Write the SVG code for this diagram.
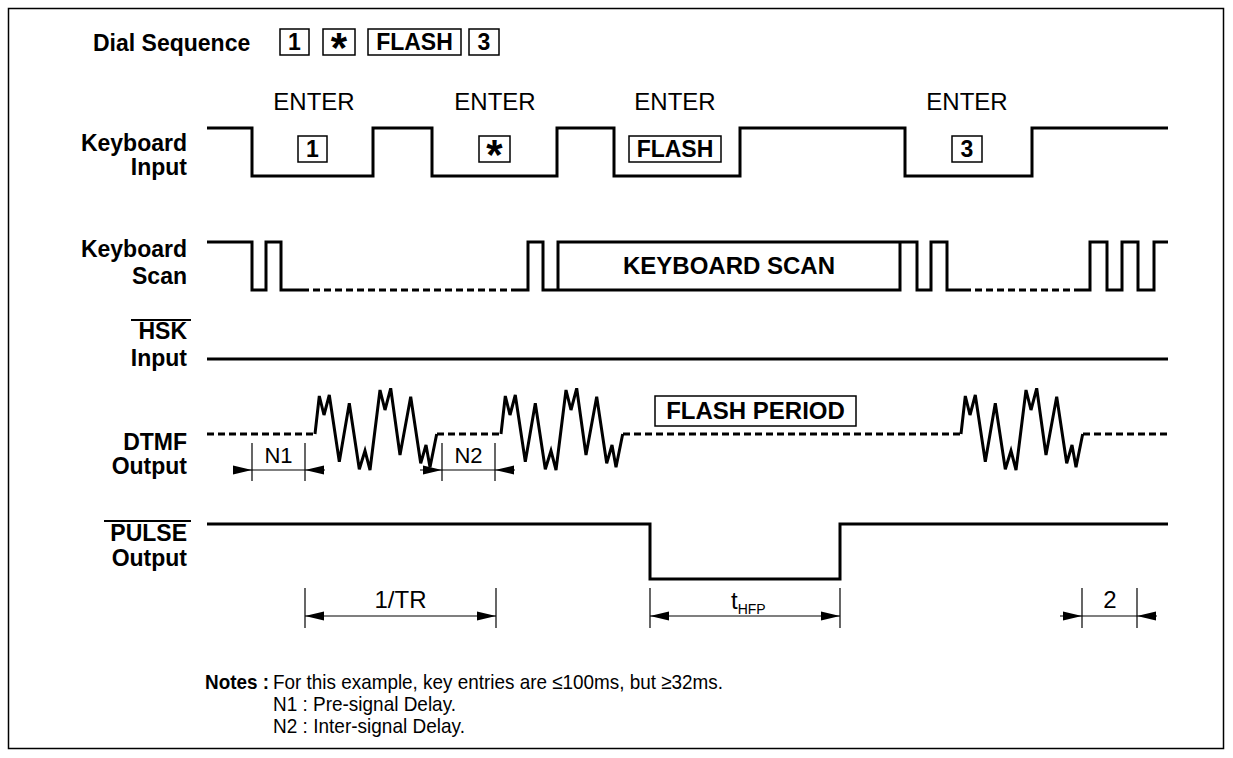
<svg xmlns="http://www.w3.org/2000/svg" xmlns:xlink="http://www.w3.org/1999/xlink" width="1233" height="758" viewBox="0 0 1233 758">
<style>
.lbl{font-family:"Liberation Sans",Arial,sans-serif;font-weight:bold;font-size:23px;fill:#000;text-anchor:end}
.bold{font-family:"Liberation Sans",Arial,sans-serif;font-weight:bold;font-size:23px;fill:#000}
.reg{font-family:"Liberation Sans",Arial,sans-serif;font-size:24px;fill:#000}
.note{font-family:"Liberation Sans",Arial,sans-serif;font-size:21px;fill:#000}
.mid{text-anchor:middle}
.ast{font-size:42px}
.wave{fill:none;stroke:#000;stroke-width:3;stroke-linejoin:miter}
.dash{fill:none;stroke:#000;stroke-width:3;stroke-dasharray:7 4}
.box{fill:#fff;stroke:#000;stroke-width:1.5}
.thin{fill:none;stroke:#000;stroke-width:1.2}
.ovl{stroke:#000;stroke-width:1.8}
</style>
<defs>
<path id="burst" class="wave" d="M0,434 L4.3,396 L9,415 L14.3,395 L24.3,461.7 L34.3,403.3 L44.3,469.3 L50,450.7 L55,470 L65,390 L70,410 L75.7,388.3 L85,455 L95.7,396.7 L105.7,463.3 L111,445 L115,467.3 L121.7,434"/>
<path id="arr" d="M0,0 L-19,-4.5 L-19,4.5 Z" fill="#000"/>
</defs>
<rect x="8.5" y="8.5" width="1215" height="740" fill="none" stroke="#000" stroke-width="1.5"/>

<g id="dial-sequence">
<text class="bold" x="93" y="51">Dial Sequence</text>
<rect class="box" x="280" y="29" width="29" height="26"/>
<text class="bold mid" x="294.5" y="50">1</text>
<rect class="box" x="323" y="29" width="32" height="26"/>
<text class="bold mid ast" x="339" y="62">*</text>
<rect class="box" x="368" y="29" width="93" height="26"/>
<text class="bold mid" x="414.5" y="50">FLASH</text>
<rect class="box" x="469" y="29" width="30" height="26"/>
<text class="bold mid" x="484" y="50">3</text>
</g>

<g id="labels">
<text class="lbl" x="187" y="151">Keyboard</text>
<text class="lbl" x="187" y="175">Input</text>
<text class="lbl" x="187" y="257">Keyboard</text>
<text class="lbl" x="187" y="284">Scan</text>
<line class="ovl" x1="131" y1="320" x2="191" y2="320"/>
<text class="lbl" x="187" y="339">HSK</text>
<text class="lbl" x="187" y="366">Input</text>
<text class="lbl" x="187" y="450">DTMF</text>
<text class="lbl" x="187" y="474">Output</text>
<line class="ovl" x1="104" y1="521" x2="191" y2="521"/>
<text class="lbl" x="187" y="541">PULSE</text>
<text class="lbl" x="187" y="566">Output</text>
</g>

<g id="keyboard-input">
<text class="reg mid" x="314" y="110">ENTER</text>
<text class="reg mid" x="495" y="110">ENTER</text>
<text class="reg mid" x="675" y="110">ENTER</text>
<text class="reg mid" x="967" y="110">ENTER</text>
<path class="wave" d="M207,128 H252 V176 H373 V128 H432 V176 H557 V128 H614 V176 H740 V128 H905 V176 H1032 V128 H1168"/>
<rect class="box" x="298" y="136" width="29" height="26"/>
<text class="bold mid" x="312.5" y="157">1</text>
<rect class="box" x="479" y="136" width="31" height="26"/>
<text class="bold mid ast" x="494.5" y="169">*</text>
<rect class="box" x="629" y="136" width="92" height="26"/>
<text class="bold mid" x="675" y="157">FLASH</text>
<rect class="box" x="952" y="136" width="30" height="26"/>
<text class="bold mid" x="967" y="157">3</text>
</g>

<g id="keyboard-scan">
<path class="wave" d="M207,242 H252 V290 H266 V242 H281 V290 H302"/>
<path class="dash" d="M302,290 H515"/>
<path class="wave" d="M515,290 H528 V242 H543 V290 H558 V242 H900 V290 H558 M900,242 H917 V290 H931 V242 H947 V290 H964"/>
<path class="dash" d="M964,290 H1075"/>
<path class="wave" d="M1075,290 H1090 V242 H1107 V290 H1122 V242 H1138 V290 H1154 V242 H1168"/>
<text class="bold mid" x="729" y="274" style="font-size:24px">KEYBOARD SCAN</text>
</g>

<g id="hsk-input">
<path class="wave" d="M207,359 H1168"/>
</g>

<g id="dtmf-output">
<path class="dash" d="M207,434 H315 M437,434 H501 M623,434 H961 M1083,434 H1168"/>
<use xlink:href="#burst" transform="translate(315,0)"/>
<use xlink:href="#burst" transform="translate(501,0)"/>
<use xlink:href="#burst" transform="translate(961,0)"/>
<rect class="box" x="655" y="396" width="201" height="30"/>
<text class="bold mid" x="755.5" y="419" style="font-size:24px">FLASH PERIOD</text>
</g>

<g id="pulse-output">
<path class="wave" d="M207,524 H650 V579 H840 V524 H1168"/>
</g>

<g id="dimensions">
<line class="thin" x1="252" y1="443" x2="252" y2="481"/>
<line class="thin" x1="305" y1="443" x2="305" y2="481"/>
<line class="thin" x1="233" y1="470" x2="325" y2="470"/>
<use xlink:href="#arr" transform="translate(252,470)"/>
<use xlink:href="#arr" transform="translate(305,470) scale(-1,1)"/>
<text class="reg mid" x="278.5" y="463" style="font-size:22px">N1</text>

<line class="thin" x1="442" y1="443" x2="442" y2="481"/>
<line class="thin" x1="495" y1="443" x2="495" y2="481"/>
<line class="thin" x1="420" y1="470" x2="515" y2="470"/>
<use xlink:href="#arr" transform="translate(442,470)"/>
<use xlink:href="#arr" transform="translate(495,470) scale(-1,1)"/>
<text class="reg mid" x="468.5" y="463" style="font-size:22px">N2</text>

<line class="thin" x1="305" y1="588" x2="305" y2="628"/>
<line class="thin" x1="496" y1="588" x2="496" y2="628"/>
<line class="thin" x1="305" y1="616" x2="496" y2="616"/>
<use xlink:href="#arr" transform="translate(305,616) scale(-1,1)"/>
<use xlink:href="#arr" transform="translate(496,616)"/>
<text class="reg mid" x="400.5" y="608">1/TR</text>

<line class="thin" x1="650" y1="588" x2="650" y2="628"/>
<line class="thin" x1="840" y1="588" x2="840" y2="628"/>
<line class="thin" x1="650" y1="616" x2="840" y2="616"/>
<use xlink:href="#arr" transform="translate(650,616) scale(-1,1)"/>
<use xlink:href="#arr" transform="translate(840,616)"/>
<text class="reg" x="731" y="609">t<tspan style="font-size:14px" dy="5">HFP</tspan></text>

<line class="thin" x1="1082" y1="588" x2="1082" y2="628"/>
<line class="thin" x1="1137" y1="588" x2="1137" y2="628"/>
<line class="thin" x1="1060" y1="616" x2="1157" y2="616"/>
<use xlink:href="#arr" transform="translate(1082,616)"/>
<use xlink:href="#arr" transform="translate(1137,616) scale(-1,1)"/>
<text class="reg mid" x="1110" y="608">2</text>
</g>

<g id="notes">
<text class="note" x="205" y="689" style="font-weight:bold" textLength="64" lengthAdjust="spacingAndGlyphs">Notes :</text>
<text class="note" x="273" y="689" textLength="450" lengthAdjust="spacingAndGlyphs">For this example, key entries are ≤100ms, but ≥32ms.</text>
<text class="note" x="273" y="711" textLength="183" lengthAdjust="spacingAndGlyphs">N1 : Pre-signal Delay.</text>
<text class="note" x="273" y="733" textLength="192" lengthAdjust="spacingAndGlyphs">N2 : Inter-signal Delay.</text>
</g>
</svg>
